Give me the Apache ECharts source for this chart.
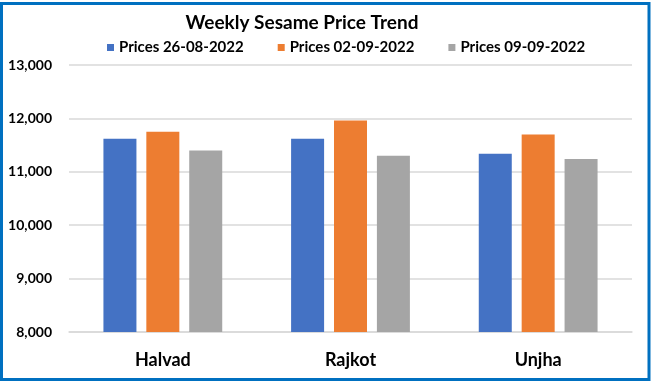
<!DOCTYPE html>
<html><head><meta charset="utf-8">
<script src="https://cdn.jsdelivr.net/npm/echarts@6/dist/echarts.min.js"></script>
<style>html,body{margin:0;padding:0;background:#fff}#c{width:652px;height:382px}</style>
</head><body><div id="c"></div>
<script>
const categories = ['Halvad', 'Rajkot', 'Unjha'];
const seriesNames = ['Prices 26-08-2022', 'Prices 02-09-2022', 'Prices 09-09-2022'];
const prices0826 = [11620, 11620, 11340];
const prices0209 = [11750, 11960, 11700];
const prices0909 = [11400, 11300, 11240];
const colors = ['#4472C4', '#ED7D31', '#A5A5A5'];
const font = 'Lato, "Open Sans", sans-serif';
const chart = echarts.init(document.getElementById('c'));
const vals = [prices0826, prices0209, prices0909];
chart.setOption({
  animation: false,
  title: {
    text: 'Weekly Sesame Price Trend', left: 297, textAlign: 'center', top: 8,
    textStyle: {fontFamily: font, fontSize: 19, fontWeight: 'bold', color: '#000'}
  },
  legend: {
    top: 35, left: 102, itemWidth: 7, itemHeight: 7, itemGap: 34,
    icon: 'rect',
    textStyle: {fontFamily: font, fontSize: 15, fontWeight: 'bold', color: '#000'},
    data: seriesNames
  },
  grid: {left: 69, right: 20, top: 65, bottom: 50},
  xAxis: {
    type: 'category', data: categories,
    axisLine: {lineStyle: {color: '#D9D9D9', width: 1.5}},
    axisTick: {show: false},
    axisLabel: {fontFamily: font, fontSize: 18, fontWeight: 'bold', color: '#000', margin: 19}
  },
  yAxis: {
    type: 'value', min: 8000, max: 13000, interval: 1000,
    axisLabel: {fontFamily: font, fontSize: 14, fontWeight: 'bold', color: '#000', margin: 17,
      formatter: v => v.toLocaleString('en-US')},
    splitLine: {lineStyle: {color: '#D9D9D9', width: 1.5}},
    axisLine: {show: false}, axisTick: {show: false}
  },
  series: seriesNames.map((n, i) => ({
    name: n, type: 'bar', data: vals[i], barWidth: 33, barGap: '30%',
    itemStyle: {color: colors[i]}
  })),
  graphic: [{
    type: 'rect', shape: {x: 1.5, y: 3.5, width: 647.5, height: 376},
    style: {fill: 'none', stroke: '#0070C0', lineWidth: 3}, z: 100
  }]
});
</script></body></html>
